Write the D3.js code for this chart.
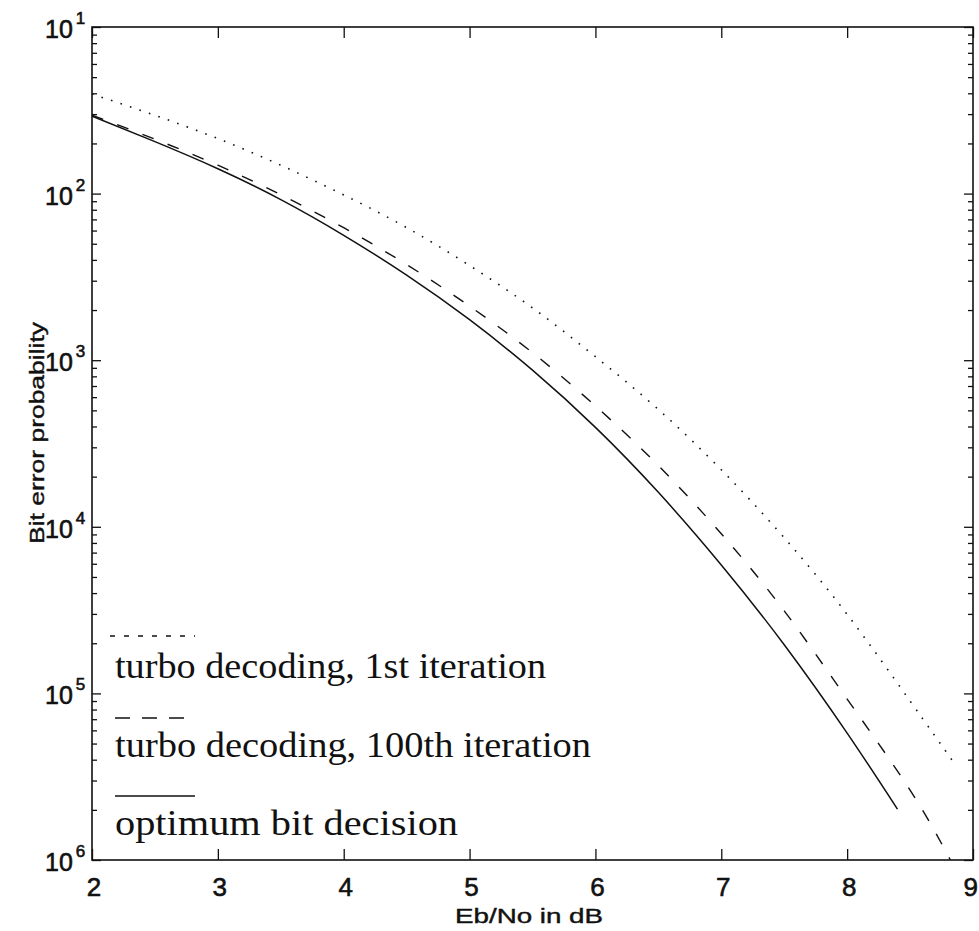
<!DOCTYPE html>
<html>
<head>
<meta charset="utf-8">
<script src="https://cdn.jsdelivr.net/npm/d3@7"></script>
<style>
  body { margin: 0; background: #fff; }
  svg { display: block; }
</style>
</head>
<body>
<div id="app"></div>
<script>
// Data
const xTicks = [2, 3, 4, 5, 6, 7, 8, 9];
const yDecades = [1e-1, 1e-2, 1e-3, 1e-4, 1e-5, 1e-6];
const yExponents = ["1", "2", "3", "4", "5", "6"]; // as printed (minus signs lost in scan)

// turbo decoding, 1st iteration (dotted)
const firstIterX = [2, 2.5, 3, 3.5, 4, 4.5, 5, 5.5, 6, 6.5, 7, 7.5, 8, 8.5, 8.85];
const firstIterBer = [3.96e-2, 2.95e-2, 2.14e-2, 1.48e-2, 9.82e-3, 6.25e-3, 3.70e-3, 2.06e-3,
  1.05e-3, 5.06e-4, 2.20e-4, 8.60e-5, 2.98e-5, 9.00e-6, 3.82e-6];

// turbo decoding, 100th iteration (dashed)
const iter100X = [2, 2.5, 3, 3.5, 4, 4.5, 5, 5.5, 6, 6.5, 7, 7.5, 8, 8.5, 8.82];
const iter100Ber = [2.96e-2, 2.12e-2, 1.48e-2, 9.84e-3, 6.24e-3, 3.75e-3, 2.11e-3, 1.11e-3,
  5.31e-4, 2.33e-4, 9.08e-5, 3.13e-5, 9.25e-6, 2.63e-6, 1.0e-6];

// optimum bit decision (solid)
const optimumX = [2, 2.5, 3, 3.5, 4, 4.5, 5, 5.5, 6, 6.5, 7, 7.5, 8, 8.4];
const optimumBer = [2.92e-2, 2.05e-2, 1.41e-2, 9.20e-3, 5.62e-3, 3.24e-3, 1.75e-3, 8.71e-4,
  3.95e-4, 1.61e-4, 5.90e-5, 1.96e-5, 5.78e-6, 2.02e-6];

const legendLabels = [
  "turbo decoding, 1st iteration",
  "turbo decoding, 100th iteration",
  "optimum bit decision"
];

const width = 979;
const height = 931;
const margin = { top: 27, right: 6, bottom: 71, left: 92 };
const ink = "#111";
const sans = "'Liberation Sans', Arial, sans-serif";

const svg = d3.select("#app")
  .append("svg")
  .attr("width", width)
  .attr("height", height);

const x = d3.scaleLinear()
  .domain([2, 9])
  .range([margin.left, width - margin.right]);

const y = d3.scaleLog()
  .domain([1e-6, 1e-1])
  .range([height - margin.bottom, margin.top]);

// clip so curves stop at the frame
svg.append("clipPath").attr("id", "plot-clip")
  .append("rect")
  .attr("x", x(2)).attr("y", y(1e-1))
  .attr("width", x(9) - x(2)).attr("height", y(1e-6) - y(1e-1));

// Axes with inward ticks
const minorTicks = y.ticks().filter(d => !yDecades.some(v => Math.abs(v - d) / v < 1e-6));

function bare(g) {
  g.select(".domain").remove();
  g.selectAll("text").remove();
  g.selectAll("line").attr("stroke", ink).attr("stroke-width", 1.3);
}

svg.append("g")
  .attr("transform", `translate(0,${y(1e-6)})`)
  .call(d3.axisBottom(x).tickValues(xTicks).tickSize(-11))
  .call(bare);

svg.append("g")
  .attr("transform", `translate(0,${y(1e-1)})`)
  .call(d3.axisTop(x).tickValues(xTicks).tickSize(-11))
  .call(bare);

svg.append("g")
  .attr("transform", `translate(${x(2)},0)`)
  .call(d3.axisLeft(y).tickValues(yDecades).tickSize(-9))
  .call(bare);

svg.append("g")
  .attr("transform", `translate(${x(2)},0)`)
  .call(d3.axisLeft(y).tickValues(minorTicks).tickSize(-5))
  .call(bare);

svg.append("g")
  .attr("transform", `translate(${x(9)},0)`)
  .call(d3.axisRight(y).tickValues(yDecades).tickSize(-9))
  .call(bare);

svg.append("g")
  .attr("transform", `translate(${x(9)},0)`)
  .call(d3.axisRight(y).tickValues(minorTicks).tickSize(-5))
  .call(bare);

// Frame
svg.append("rect")
  .attr("x", x(2)).attr("y", y(1e-1))
  .attr("width", x(9) - x(2)).attr("height", y(1e-6) - y(1e-1))
  .attr("fill", "none")
  .attr("stroke", ink)
  .attr("stroke-width", 1.6);

// x tick labels (last one kept inside the page edge)
svg.append("g")
  .selectAll("text")
  .data(xTicks)
  .enter()
  .append("text")
  .attr("x", (d, i) => (i === xTicks.length - 1 ? width - 1 : x(d) + 2))
  .attr("y", 896)
  .attr("text-anchor", (d, i) => (i === xTicks.length - 1 ? "end" : "middle"))
  .attr("font-family", sans)
  .attr("font-size", 26)
  .attr("fill", ink)
  .attr("stroke", ink)
  .attr("stroke-width", 0.6)
  .text(d => d);

// y tick labels: 10 with superscript
const yLabels = svg.append("g")
  .selectAll("text")
  .data(yDecades)
  .enter()
  .append("text")
  .attr("x", 45)
  .attr("y", d => y(d) + 11)
  .attr("font-family", sans)
  .attr("font-size", 25)
  .attr("fill", ink)
  .attr("stroke", ink)
  .attr("stroke-width", 0.6);

yLabels.append("tspan").text("10");
yLabels.append("tspan")
  .attr("dx", 3)
  .attr("dy", -14)
  .attr("font-size", 17)
  .text((d, i) => yExponents[i]);

// axis titles
svg.append("text")
  .attr("x", 529)
  .attr("y", 923)
  .attr("text-anchor", "middle")
  .attr("font-family", sans)
  .attr("font-size", 20)
  .attr("textLength", 148)
  .attr("lengthAdjust", "spacingAndGlyphs")
  .attr("fill", ink)
  .attr("stroke", ink)
  .attr("stroke-width", 0.4)
  .text("Eb/No in dB");

svg.append("text")
  .attr("transform", "translate(44,433) rotate(-90)")
  .attr("text-anchor", "middle")
  .attr("font-family", sans)
  .attr("font-size", 21)
  .attr("textLength", 222)
  .attr("lengthAdjust", "spacingAndGlyphs")
  .attr("fill", ink)
  .attr("stroke", ink)
  .attr("stroke-width", 0.4)
  .text("Bit error probability");

// Curves
const line = d3.line()
  .x(d => x(d[0]))
  .y(d => y(d[1]))
  .curve(d3.curveNatural);

const series = [
  { xs: firstIterX, ys: firstIterBer, dash: "1.6,8.4", w: 1.6 },
  { xs: iter100X, ys: iter100Ber, dash: "12,15", w: 1.4 },
  { xs: optimumX, ys: optimumBer, dash: null, w: 1.5 }
];

svg.append("g")
  .attr("clip-path", "url(#plot-clip)")
  .selectAll("path")
  .data(series)
  .enter()
  .append("path")
  .attr("d", s => line(d3.zip(s.xs, s.ys)))
  .attr("fill", "none")
  .attr("stroke", ink)
  .attr("stroke-width", s => s.w)
  .attr("stroke-dasharray", s => s.dash);

// Legend (line sample above each label)
const legendY = [636, 718, 796];
const legendDash = ["5,9", "15,12", null];
const legendTextY = [678, 757, 835];
const legendTextLen = [431, 476, 343];

svg.append("g")
  .selectAll("line")
  .data(legendY)
  .enter()
  .append("line")
  .attr("x1", (d, i) => (i === 0 ? 110 : 115))
  .attr("x2", 195)
  .attr("y1", d => d)
  .attr("y2", d => d)
  .attr("stroke", ink)
  .attr("stroke-width", 1.6)
  .attr("stroke-dasharray", (d, i) => legendDash[i]);

svg.append("g")
  .selectAll("text")
  .data(legendLabels)
  .enter()
  .append("text")
  .attr("x", 115)
  .attr("y", (d, i) => legendTextY[i])
  .attr("font-family", "'Liberation Serif', 'Times New Roman', serif")
  .attr("font-size", 36)
  .attr("textLength", (d, i) => legendTextLen[i])
  .attr("lengthAdjust", "spacingAndGlyphs")
  .attr("fill", ink)
  .text(d => d);
</script>
</body>
</html>
